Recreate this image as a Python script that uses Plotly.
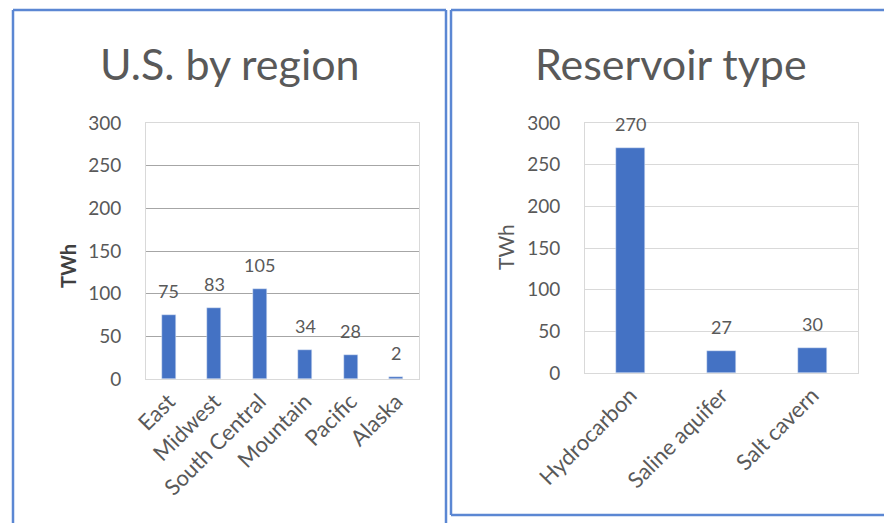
import plotly.graph_objects as go

# Hydrogen storage potential, TWh
regions = ["East", "Midwest", "South Central", "Mountain", "Pacific", "Alaska"]
region_twh = [75, 83, 105, 34, 28, 2]

reservoirs = ["Hydrocarbon", "Saline aquifer", "Salt cavern"]
reservoir_twh = [270, 27, 30]

y_ticks = [0, 50, 100, 150, 200, 250, 300]

W, H = 884, 523
BAR = "#4472C4"
TXT = "#595959"
BORDER = "#d9d9d9"
GRID_LEFT = "#a6a6a6"
GRID_RIGHT = "#d9d9d9"
FRAME = "#5b87d3"
FONT = "Lato, 'Open Sans', sans-serif"


def px(x):
    return x / W


def py(y):
    return 1 - y / H


fig = go.Figure()
fig.add_trace(go.Bar(x=regions, y=region_twh, marker_color=BAR, width=0.31,
                     xaxis="x", yaxis="y", showlegend=False))
fig.add_trace(go.Bar(x=reservoirs, y=reservoir_twh, marker_color=BAR, width=0.31,
                     xaxis="x2", yaxis="y2", showlegend=False))

axis_common = dict(showline=True, mirror=True, linecolor=BORDER, linewidth=1,
                   automargin=False)
xaxis_common = dict(axis_common, tickangle=-45, showgrid=False, ticks="",
                    tickfont=dict(family=FONT, size=22, color=TXT))
yaxis_common = dict(axis_common, range=[0, 300], tickvals=y_ticks, showgrid=True,
                    gridwidth=1, zeroline=False,
                    ticks="outside", ticklen=20, tickcolor="rgba(0,0,0,0)",
                    tickfont=dict(family=FONT, size=19, color=TXT))

fig.update_layout(
    width=W, height=H,
    margin=dict(l=0, r=0, t=0, b=0, autoexpand=False),
    paper_bgcolor="white", plot_bgcolor="white",
    font=dict(family=FONT, color=TXT),
    bargap=0,
    xaxis=dict(xaxis_common, domain=[px(146), px(419)], anchor="y"),
    yaxis=dict(yaxis_common, domain=[py(379), py(123)], anchor="x",
               gridcolor=GRID_LEFT),
    xaxis2=dict(xaxis_common, domain=[px(585), px(858)], anchor="y2"),
    yaxis2=dict(yaxis_common, domain=[py(373), py(123)], anchor="x2",
                gridcolor=GRID_RIGHT),
)

annotations = []
# value labels above each bar
for cats, vals, xr, yr in [(regions, region_twh, "x", "y"),
                           (reservoirs, reservoir_twh, "x2", "y2")]:
    for c, v in zip(cats, vals):
        annotations.append(dict(x=c, y=v, xref=xr, yref=yr, text=str(v),
                                showarrow=False, yanchor="bottom", yshift=11,
                                font=dict(family=FONT, size=18, color=TXT)))

# panel titles
annotations.append(dict(x=px(230), y=py(63), xref="paper", yref="paper",
                        xanchor="center", yanchor="middle",
                        text="U.S. by region", showarrow=False,
                        font=dict(family=FONT, size=43, color=TXT)))
annotations.append(dict(x=px(671), y=py(63), xref="paper", yref="paper",
                        xanchor="center", yanchor="middle",
                        text="Reservoir type", showarrow=False,
                        font=dict(family=FONT, size=43, color=TXT)))

# axis titles
annotations.append(dict(x=px(68), y=py(266), xref="paper", yref="paper",
                        xanchor="center", yanchor="middle",
                        text="<b>TWh</b>", showarrow=False, textangle=-90,
                        font=dict(family=FONT, size=20, color="#404040")))
annotations.append(dict(x=px(505), y=py(247), xref="paper", yref="paper",
                        xanchor="center", yanchor="middle",
                        text="TWh", showarrow=False, textangle=-90,
                        font=dict(family=FONT, size=21, color=TXT)))
fig.update_layout(annotations=annotations)

# panel frames, drawn as separate edges so none leaves the page
frame = dict(color=FRAME, width=2.5)
edges = [
    # left panel: left, top, right (bottom runs off the page)
    (13, 10, 13, 523), (13, 10, 446, 10), (446, 10, 446, 523),
    # right panel: left, top, bottom (right runs off the page)
    (451, 10, 451, 515), (451, 10, 884, 10), (451, 515, 884, 515),
]
for x0, y0, x1, y1 in edges:
    fig.add_shape(type="line", xref="paper", yref="paper",
                  x0=px(x0), y0=py(y0), x1=px(x1), y1=py(y1),
                  line=frame, layer="below")

fig.write_html("out.html")
